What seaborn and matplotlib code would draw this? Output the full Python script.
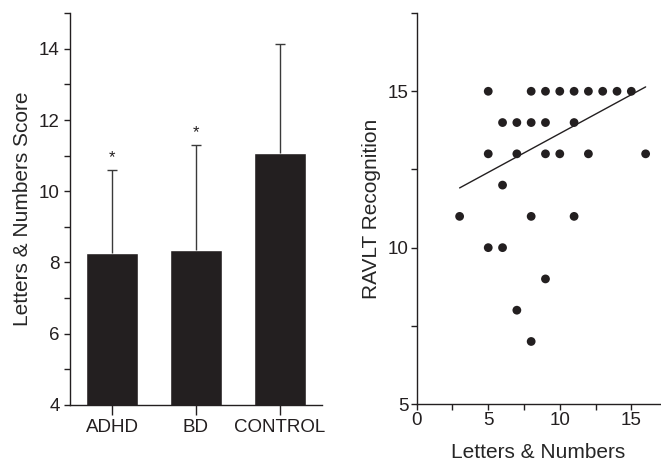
import numpy as np
import pandas as pd
import matplotlib
matplotlib.use("Agg")
import matplotlib.pyplot as plt
from matplotlib.ticker import MultipleLocator
import seaborn as sns

# Bar panel data (group means and SD)
groups = ["ADHD", "BD", "CONTROL"]
means = [8.27, 8.36, 11.08]
sds = [2.33, 2.95, 3.05]
stars = ["*", "*", ""]

# Scatter panel data
ln_scores = [5, 8, 9, 10, 11, 12, 13, 14, 15,
             6, 7, 8, 9, 11,
             5, 7, 9, 10, 12, 16,
             6,
             3, 8, 11,
             5, 6,
             9, 7, 8]
ravlt_scores = [15, 15, 15, 15, 15, 15, 15, 15, 15,
                14, 14, 14, 14, 14,
                13, 13, 13, 13, 13, 13,
                12,
                11, 11, 11,
                10, 10,
                9, 8, 7]
# fitted line end points
fit_x = [3, 16]
fit_y = [11.91, 15.14]

sns.set_style("ticks")
plt.rcParams['font.family'] = ['Liberation Sans', 'DejaVu Sans']
ink = "#231f20"

fig = plt.figure(figsize=(6.61, 4.61), dpi=100)
ax1 = fig.add_axes([0.1059, 0.1215, 0.381, 0.850])
ax2 = fig.add_axes([0.6304, 0.1236, 0.368, 0.848])

# Left: bar chart
bar_df = pd.DataFrame({"group": groups, "score": means})
sns.barplot(data=bar_df, x="group", y="score", color=ink, saturation=1,
            width=0.62, errorbar=None, ax=ax1)
eb = ax1.errorbar(range(len(groups)), means, yerr=[[0] * len(groups), sds],
                  fmt="none", ecolor="#3a3a3a", elinewidth=1.0, capsize=3.5, capthick=1.0)
eb[1][0].set_visible(False)  # no lower caps
for i, (m, s, st) in enumerate(zip(means, sds, stars)):
    if st:
        ax1.text(i, m + s + 0.12, st, ha="center", va="bottom", fontsize=12, color=ink)
ax1.set_ylim(4, 15)
ax1.set_xlim(-0.5, 2.5)
ax1.yaxis.set_major_locator(MultipleLocator(2))
ax1.yaxis.set_minor_locator(MultipleLocator(1))
ax1.set_xlabel("")
ax1.set_ylabel("Letters & Numbers Score", fontsize=15, labelpad=5)
ax1.tick_params(axis="x", length=7, width=1, labelsize=13.5, pad=3)
ax1.tick_params(axis="y", which="both", length=4, width=1, labelsize=13.5)

# Right: scatter with fit line
sns.scatterplot(x=ln_scores, y=ravlt_scores, color=ink, s=40, edgecolor="none", ax=ax2)
sns.lineplot(x=fit_x, y=fit_y, color=ink, linewidth=1.0, ax=ax2)
ax2.set_xlim(0, 17)
ax2.set_ylim(5, 17.5)
ax2.xaxis.set_major_locator(MultipleLocator(5))
ax2.xaxis.set_minor_locator(MultipleLocator(2.5))
ax2.yaxis.set_major_locator(MultipleLocator(5))
ax2.yaxis.set_minor_locator(MultipleLocator(2.5))
ax2.set_xlabel("Letters & Numbers", fontsize=15, labelpad=10)
ax2.set_ylabel("RAVLT Recognition", fontsize=15, labelpad=5)
ax2.tick_params(axis="both", which="both", length=4, width=1, labelsize=13.5, pad=2)

for ax in (ax1, ax2):
    sns.despine(ax=ax)
    for sp in ("left", "bottom"):
        ax.spines[sp].set_linewidth(1.0)
        ax.spines[sp].set_color(ink)
    ax.tick_params(colors=ink, which="both")

fig.savefig("out.png", dpi=100)
